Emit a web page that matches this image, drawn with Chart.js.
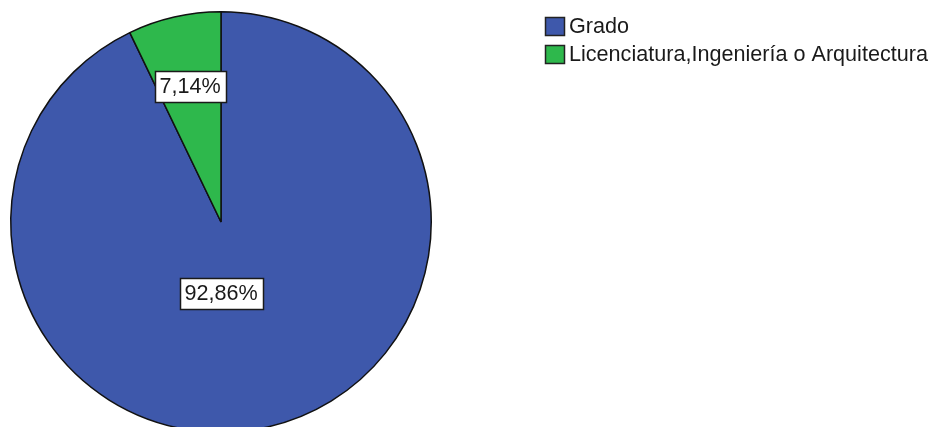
<!DOCTYPE html>
<html>
<head>
<meta charset="utf-8">
<script src="https://cdn.jsdelivr.net/npm/chart.js@4.4.1/dist/chart.umd.min.js"></script>
<style>
  html, body { margin: 0; padding: 0; background: #fff; overflow: hidden; }
  #wrap { position: absolute; left: 0; top: 0; width: 933px; height: 444px; }
</style>
</head>
<body>
<div id="wrap"><canvas id="myChart" width="933" height="444"></canvas></div>
<script>
// data
var categorias = ["Grado", "Licenciatura,Ingeniería o Arquitectura"];
var porcentajes = [92.86, 7.14];
var etiquetas = ["92,86%", "7,14%"];
var colores = ["#3e58ab", "#2eb84c"];

var fuente = "21.6px 'Liberation Sans', Arial, sans-serif";

// etiquetas con caja blanca
var etiquetasPlugin = {
    id: "etiquetas",
    afterDatasetsDraw: function (chart) {
        var ctx = chart.ctx;
        var meta = chart.getDatasetMeta(0);
        ctx.save();
        ctx.font = fuente;
        ctx.textAlign = "center";
        ctx.textBaseline = "middle";
        meta.data.forEach(function (arc, i) {
            var p = arc.getProps(["x", "y", "startAngle", "endAngle", "outerRadius"], true);
            var half = (p.endAngle - p.startAngle) / 2;
            var mid = p.startAngle + half;
            // centroide del sector
            var d = 2 * p.outerRadius * Math.sin(half) / (3 * half);
            var x = p.x + Math.cos(mid) * d;
            var y = p.y + Math.sin(mid) * d;
            if (d < p.outerRadius * 0.3) {
                x = p.x;
                y = p.y + p.outerRadius * 0.34;
            }
            var txt = etiquetas[i];
            var w = Math.round(ctx.measureText(txt).width + 10);
            var h = 31;
            var bx = Math.round(x - w / 2), by = Math.round(y - h / 2);
            ctx.fillStyle = "#fff";
            ctx.fillRect(bx, by, w, h);
            ctx.strokeStyle = "#1a1a1a";
            ctx.lineWidth = 1.5;
            ctx.strokeRect(bx + 0.5, by + 0.5, w, h);
            ctx.fillStyle = "#1a1a1a";
            ctx.fillText(txt, x, y + 1);
        });
        ctx.restore();
    }
};

// leyenda a la derecha
var leyendaPlugin = {
    id: "leyenda",
    afterDraw: function (chart) {
        var ctx = chart.ctx;
        var ds = chart.data.datasets[0];
        ctx.save();
        ctx.font = fuente;
        ctx.textBaseline = "middle";
        chart.data.labels.forEach(function (lab, i) {
            var top = 17 + i * 28;
            ctx.fillStyle = ds.backgroundColor[i];
            ctx.fillRect(545, top, 20, 19);
            ctx.strokeStyle = "#222";
            ctx.lineWidth = 1.5;
            ctx.strokeRect(545.5, top + 0.5, 19, 18);
            ctx.fillStyle = "#1a1a1a";
            ctx.fillText(lab, 569, top + 10);
        });
        ctx.restore();
    }
};

new Chart("myChart", {
    type: "pie",
    data: {
        labels: categorias,
        datasets: [{
            data: porcentajes,
            backgroundColor: colores,
            borderColor: "#111",
            borderWidth: 1.5
        }]
    },
    options: {
        responsive: false,
        animation: false,
        devicePixelRatio: 1,
        layout: { padding: { left: 10, top: 11, right: 501, bottom: 11 } },
        plugins: {
            legend: { display: false },
            tooltip: { enabled: false }
        }
    },
    plugins: [etiquetasPlugin, leyendaPlugin]
});
</script>
</body>
</html>
